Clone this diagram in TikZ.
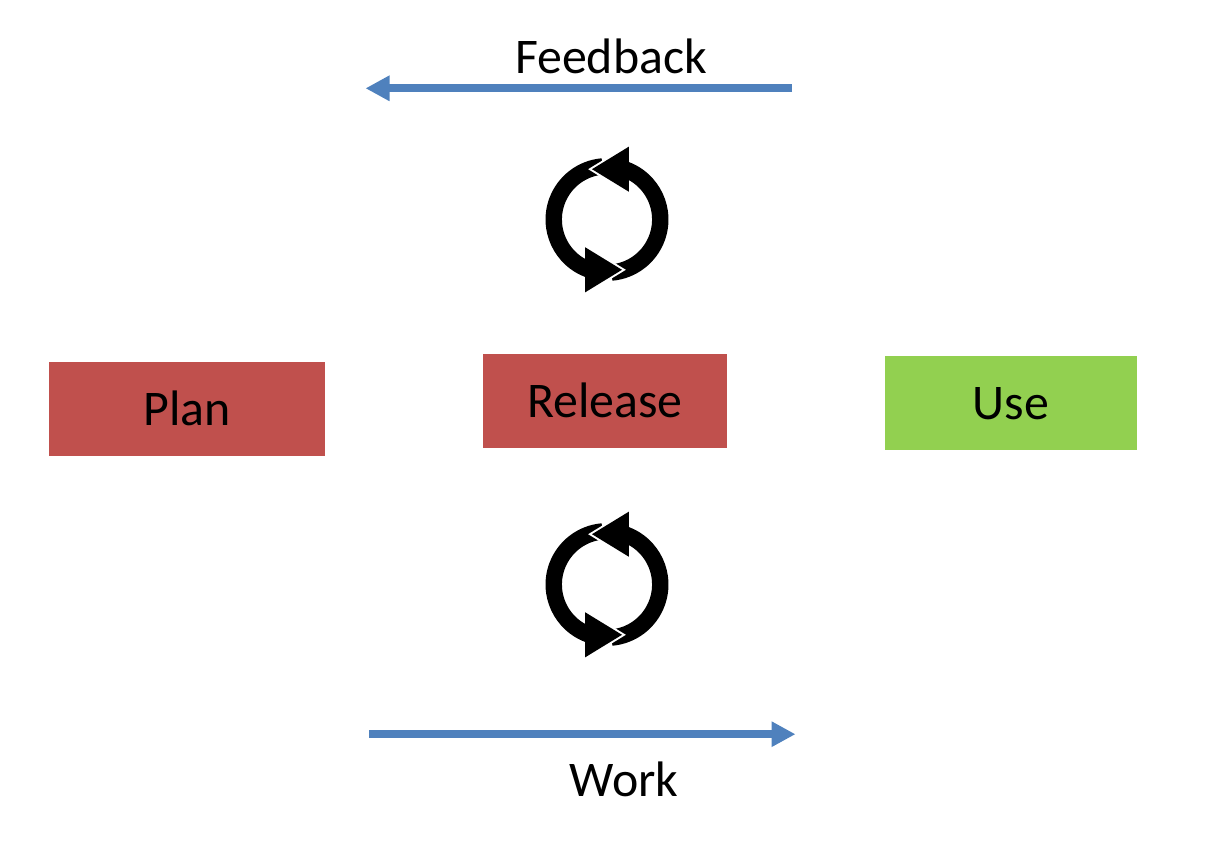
\documentclass[tikz,border=0pt]{standalone}
\usepackage{fontspec}
\setmainfont{Carlito}
\usetikzlibrary{arrows.meta}
\definecolor{boxred}{HTML}{C0504D}
\definecolor{boxgreen}{HTML}{92D050}
\definecolor{flowblue}{HTML}{4F81BD}
\tikzset{
  lbl/.style={font=\fontsize{37.4}{37.4}\selectfont,text=black,inner sep=0pt},
  stagebox/.style={lbl,anchor=center,text height=29.5pt,text depth=4.5pt,minimum height=70.5pt},
  flow/.style={draw=flowblue,line width=6pt,-{Triangle[length=18pt,width=18pt]}},
  cyclearrow/.pic={
    \fill[black] (70:46.1pt) arc[start angle=70,end angle=-85,radius=46.1pt]
      -- (-85:33.8pt) arc[start angle=-85,end angle=70,radius=33.8pt] -- cycle;
    \fill[black] (250:46.1pt) arc[start angle=250,end angle=95,radius=46.1pt]
      -- (95:33.8pt) arc[start angle=95,end angle=250,radius=33.8pt] -- cycle;
    \draw[white,line width=3pt,miter limit=10] (21.8,-72.8) -- (-15,-50.3) -- (21.8,-27.8);
    \fill[black] (21.8,-72.8) -- (-15,-50.3) -- (21.8,-27.8) -- cycle;
    \draw[white,line width=3pt,miter limit=10] (-21.8,72.8) -- (15,50.3) -- (-21.8,27.8);
    \fill[black] (-21.8,72.8) -- (15,50.3) -- (-21.8,27.8) -- cycle;
  }
}
\begin{document}
\begin{tikzpicture}[x=0.75pt,y=-0.75pt]
\useasboundingbox (0,0) rectangle (1232,842);
\node[stagebox,fill=boxred,minimum width=207pt] (plan) at (187,409) {Plan};
\node[stagebox,fill=boxred,minimum width=183pt] (release) at (605,401) {Release};
\node[stagebox,fill=boxgreen,minimum width=189pt] (use) at (1011,403) {Use};
\node[lbl,anchor=base] (feedback) at (611,74) {Feedback};
\node[lbl,anchor=base] (work) at (624,796) {Work};
\coordinate (fbstart) at (792,88.3);
\coordinate (fbend) at (365.5,88.3);
\coordinate (wkstart) at (369,734.2);
\coordinate (wkend) at (795.5,734.2);
\draw[flow] (fbstart) -- (fbend);
\draw[flow] (wkstart) -- (wkend);
\pic at (607,219.5) {cyclearrow};
\pic at (607,584.5) {cyclearrow};
\end{tikzpicture}
\end{document}
